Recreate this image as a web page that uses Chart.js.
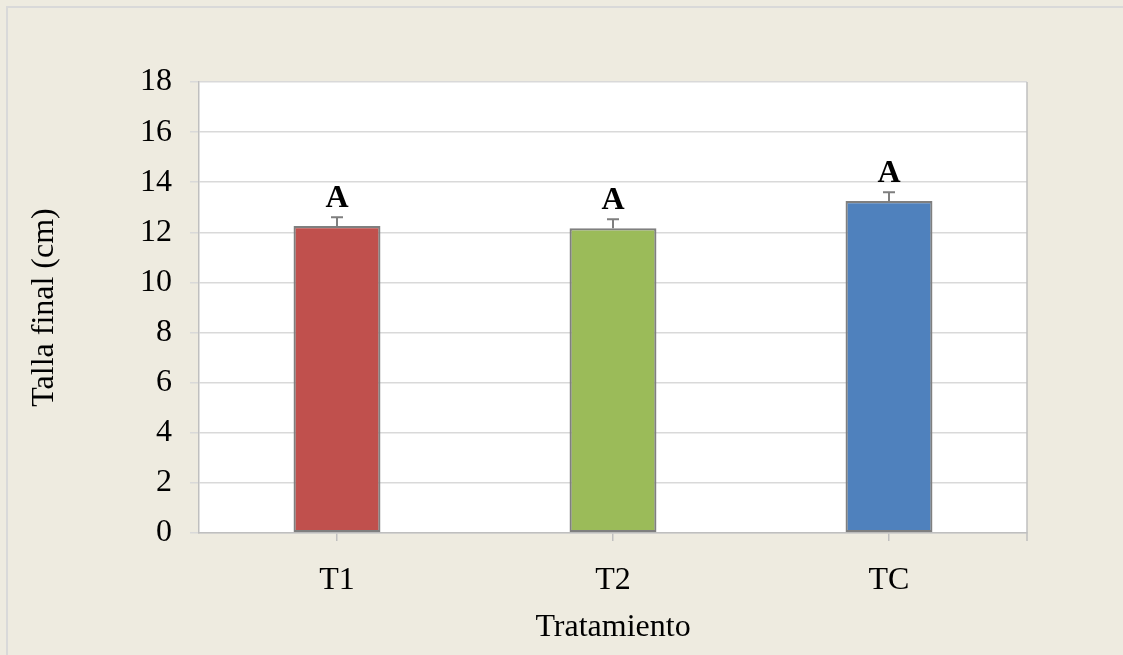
<!DOCTYPE html>
<html>
<head>
<meta charset="utf-8">
<script src="https://cdn.jsdelivr.net/npm/chart.js@4"></script>
<style>
  html, body { margin:0; padding:0; background:#EEEBE0; }
  #wrap { width:1123px; height:655px; position:relative; }
</style>
</head>
<body>
<div id="wrap"><canvas id="c" width="1123" height="655"></canvas></div>
<script>
// valores
const categorias = ["T1", "T2", "TC"];
const talla = [12.25, 12.16, 13.25];
const errores = [0.35, 0.36, 0.35];
const letras = ["A", "A", "A"];
const colores = ["#C0504D", "#9BBB59", "#4F81BD"];
const yTicks = [0, 2, 4, 6, 8, 10, 12, 14, 16, 18];

const FONT = "'Liberation Serif', 'Times New Roman', serif";

// fondo, marco exterior y borde derecho del area
const fondo = {
  id: "fondo",
  beforeDraw(chart){
    const {ctx, chartArea:a, width, height} = chart;
    ctx.save();
    ctx.fillStyle = "#EEEBE0";
    ctx.fillRect(0, 0, width, height);
    ctx.strokeStyle = "#D9D9D9";
    ctx.lineWidth = 2;
    ctx.beginPath();
    ctx.moveTo(7, height); ctx.lineTo(7, 7); ctx.lineTo(width, 7);
    ctx.stroke();
    ctx.fillStyle = "#FFFFFF";
    ctx.fillRect(a.left, a.top, a.right - a.left, a.bottom - a.top);
    ctx.restore();
  },
  afterDatasetsDraw(chart){
    const {ctx, chartArea:a} = chart;
    ctx.save();
    ctx.strokeStyle = "#BFBFBF";
    ctx.lineWidth = 1.5;
    ctx.beginPath();
    ctx.moveTo(a.right, a.top); ctx.lineTo(a.right, a.bottom + 8);
    ctx.stroke();
    ctx.restore();
  }
};

// barras de error (solo parte superior) y letras
const errorBars = {
  id: "errorBars",
  afterDatasetsDraw(chart){
    const {ctx} = chart;
    const meta = chart.getDatasetMeta(0);
    const y = chart.scales.y;
    ctx.save();
    meta.data.forEach((bar, i) => {
      const top = y.getPixelForValue(talla[i] + errores[i]);
      const base = y.getPixelForValue(talla[i]);
      ctx.strokeStyle = "#7F7F7F";
      ctx.lineWidth = 2;
      ctx.beginPath();
      ctx.moveTo(bar.x, base); ctx.lineTo(bar.x, top);
      ctx.moveTo(bar.x - 6, top); ctx.lineTo(bar.x + 6, top);
      ctx.stroke();
      ctx.fillStyle = "#000";
      ctx.font = "bold 32px " + FONT;
      ctx.textAlign = "center";
      ctx.textBaseline = "alphabetic";
      ctx.fillText(letras[i], bar.x, top - 10);
    });
    ctx.restore();
  }
};

Chart.defaults.animation = false;
Chart.defaults.responsive = false;
Chart.defaults.font.family = FONT;
Chart.defaults.color = "#000";

new Chart(document.getElementById("c"), {
  type: "bar",
  data: {
    labels: categorias,
    datasets: [{
      data: talla,
      backgroundColor: colores,
      borderColor: "#7F7F7F",
      borderWidth: 2.2,
      borderSkipped: false,
      categoryPercentage: 1,
      barPercentage: 0.315
    }]
  },
  options: {
    responsive: false,
    animation: false,
    layout: { padding: { top: 82, right: 96, bottom: 0, left: 0 } },
    plugins: { legend: { display: false }, tooltip: { enabled: false } },
    scales: {
      x: {
        afterFit: s => { s.height = 122; },
        grid: { offset: false, drawOnChartArea: false, tickLength: 8, color: "#BFBFBF", lineWidth: 1.5 },
        border: { color: "#BFBFBF", width: 1.5 },
        ticks: { font: { size: 32 }, padding: 20, color: "#000" },
        title: { display: true, text: "Tratamiento", font: { size: 32 }, color: "#000", padding: { top: 0, bottom: 8 } }
      },
      y: {
        min: 0, max: 18,
        afterFit: s => { s.width = 199; },
        afterBuildTicks: s => { s.ticks = yTicks.map(v => ({ value: v })); },
        grid: { color: "#D9D9D9", lineWidth: 1.5, tickLength: 9 },
        border: { color: "#BFBFBF", width: 1.5 },
        ticks: { font: { size: 32 }, padding: 18, color: "#000" },
        title: { display: true, text: "Talla final (cm)", font: { size: 32 }, color: "#000", padding: { top: 25, bottom: 0 } }
      }
    }
  },
  plugins: [fondo, errorBars]
});
</script>
</body>
</html>
